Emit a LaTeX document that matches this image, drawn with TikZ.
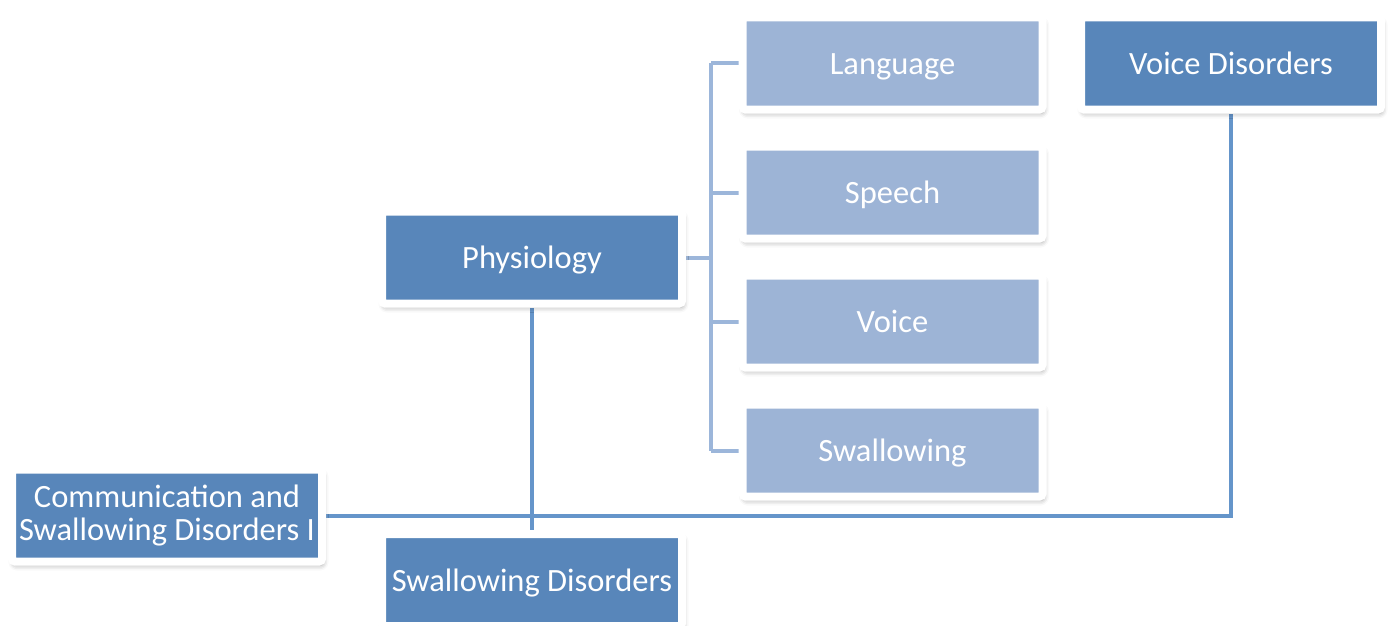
\documentclass[tikz,border=0pt]{standalone}
\usepackage{fontspec}
\setmainfont{Carlito}
\usetikzlibrary{shadows.blur,backgrounds}
\definecolor{topblue}{HTML}{5886BA}
\definecolor{subblue}{HTML}{9DB4D6}
\definecolor{topline}{HTML}{6595CA}
\definecolor{subline}{HTML}{9CB6DA}
\tikzset{
  box/.style={draw=white, line width=8pt, rounded corners=3pt, text=white,
    minimum width=300pt, minimum height=92pt, inner sep=0pt, align=center,
    font=\fontsize{32.5}{33}\selectfont,
    blur shadow={shadow xshift=1.5pt, shadow yshift=-4pt, shadow blur radius=5pt, shadow opacity=35}},
  oneline/.style={text height=26pt, text depth=4pt},
  topbox/.style={box, fill=topblue},
  subbox/.style={box, oneline, fill=subblue},
  topwire/.style={draw=topline, line width=4pt},
  subwire/.style={draw=subline, line width=4pt}
}
\begin{document}
\begin{tikzpicture}[x=1pt,y=-1pt]
      \useasboundingbox (0,0) rectangle (1393,626);
      \draw
        (892.5,63.5) node[subbox] (lang){Language}
        (892.5,192.5) node[subbox] (speech){Speech}
        (892.5,321.5) node[subbox] (voice){Voice}
        (892.5,450.5) node[subbox] (swallow){Swallowing}
        (1231,63.5) node[topbox, oneline] (vdis){Voice Disorders}
        (532,257.5) node[topbox, oneline] (phys){Physiology}
        (167,515.5) node[topbox, minimum width=310pt] (comm){Communication and\\Swallowing Disorders I}
        (532,580) node[topbox, oneline] (swdis){Swallowing Disorders};
      \coordinate (bus) at (711,257.5);
      \begin{scope}[on background layer]
        \draw[subwire] (phys.east) to (bus);
        \draw[subwire] (bus |- lang) to (bus |- swallow);
        \draw[subwire] (bus |- lang) to (lang.west);
        \draw[subwire] (bus |- speech) to (speech.west);
        \draw[subwire] (bus |- voice) to (voice.west);
        \draw[subwire] (bus |- swallow) to (swallow.west);
        \draw[topwire] (phys.south) to (swdis.north);
        \draw[topwire] (comm.east) -| (vdis.south);
      \end{scope}
    \end{tikzpicture}
\end{document}
